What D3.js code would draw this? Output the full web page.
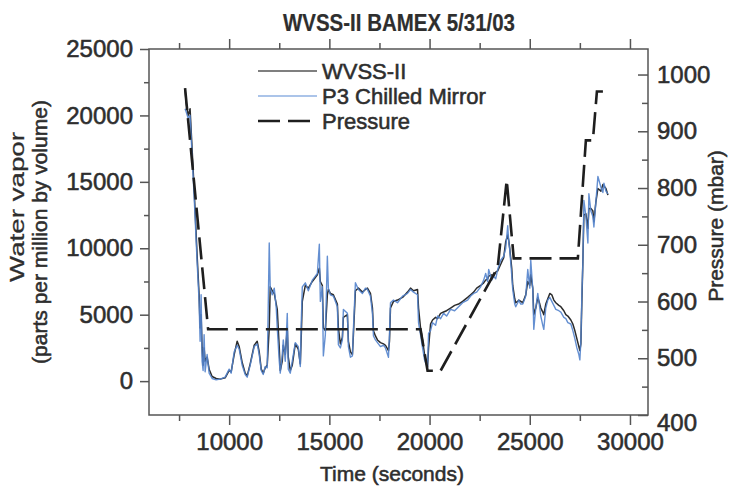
<!DOCTYPE html>
<html>
<head>
<meta charset="utf-8">
<script src="https://cdn.jsdelivr.net/npm/d3@7"></script>
<style>
body { margin: 0; background: #fff; }
svg text { font-family: "Liberation Sans", Arial, sans-serif; fill: #2e2e2e; stroke: #2e2e2e; stroke-width: 0.55px; }
</style>
</head>
<body>
<svg id="chart" width="729" height="486"></svg>
<script>
var chartTitle = "WVSS-II BAMEX 5/31/03";
var seriesNames = ["WVSS-II", "P3 Chilled Mirror", "Pressure"];

// time in seconds, water vapor in ppmv
var times = [
    7800, 7850, 7950, 8050, 8100, 8250, 8400, 8500, 8550, 8600,
    8650, 8700, 8750, 8800, 8900, 9000, 9150, 9350, 9550, 9800,
    10000, 10100, 10250, 10400, 10500, 10650, 10800, 10900, 11050, 11250,
    11400, 11500, 11600, 11700, 11800, 11900, 12000, 12050, 12150, 12250,
    12350, 12400, 12500, 12550, 12650, 12700, 12800, 12900, 12950, 13050,
    13150, 13300, 13450, 13550, 13600, 13650, 13800, 13950, 14150, 14300,
    14400, 14500, 14550, 14650, 14700, 14800, 14900, 14950, 15050, 15200,
    15400, 15450, 15550, 15650, 15700, 15900, 15950, 16050, 16150, 16200,
    16300, 16450, 16650, 16800, 16900, 17050, 17150, 17200, 17300, 17400,
    17550, 17700, 17800, 17950, 18000, 18050, 18200, 18400, 18650, 18900,
    19050, 19200, 19400, 19450, 19550, 19650, 19750, 19850, 19900, 19950,
    20050, 20150, 20300, 20400, 20550, 20700, 20850, 21050, 21250, 21450,
    21650, 21900, 22050, 22200, 22350, 22550, 22700, 22800, 22900, 22950,
    23100, 23200, 23300, 23400, 23550, 23700, 23800, 23900, 23950, 24000,
    24100, 24150, 24250, 24300, 24400, 24450, 24550, 24650, 24750, 24800,
    24900, 25000, 25050, 25150, 25200, 25300, 25400, 25500, 25550, 25650,
    25700, 25800, 25900, 26000, 26100, 26200, 26300, 26450, 26550, 26700,
    26800, 26900, 27050, 27150, 27250, 27350, 27450, 27500, 27550, 27600,
    27650, 27700, 27800, 27900, 27950, 28050, 28150, 28200, 28300, 28400,
    28550, 28650, 28700, 28800, 28900
];

var wvssValues = [
    22000, 21000, 20000, 20500, 19000, 14500, 9500, 6500, 4000, 5000,
    2500, 1200, 2500, 1500, 1800, 900, 350, 200, 150, 250,
    800, 700, 2000, 3000, 2600, 1400, 600, 400, 1300, 2700,
    3000, 2200, 900, 600, 1000, 1200, 4000, 7100, 6800, 6600,
    5800, 5400, 2500, 800, 1500, 2700, 2000, 4000, 1800, 800,
    1200, 2800, 2400, 1300, 3500, 6000, 7200, 7000, 7500, 7800,
    8000, 8500, 7500, 7200, 4000, 3800, 6500, 6900, 6600, 6500,
    5800, 4000, 2800, 3300, 4800, 5000, 3000, 2200, 2000, 3500,
    6800, 7000, 6700, 6900, 7000, 6600, 5500, 3800, 3400, 3100,
    2900, 2800, 2700, 2300, 3000, 5500, 6000, 6100, 6300, 6700,
    7000, 6800, 6900, 5500, 4000, 3100, 2000, 1300, 1100, 2500,
    4300, 4600, 4800, 4700, 5100, 5200, 5300, 5500, 5700, 5800,
    6000, 6300, 6500, 6700, 7000, 7200, 7400, 7600, 7700, 7900,
    8000, 7900, 8200, 8300, 8800, 9300, 10500, 11000, 10600, 10000,
    8500, 7200, 6200, 5900, 6000, 6100, 6000, 5900, 6300, 6500,
    7500, 7200, 8000, 7000, 5000, 5500, 6300, 5800, 5500, 5200,
    5000, 5800, 6200, 6600, 6500, 6100, 5900, 5700, 5600, 5300,
    5000, 4900, 4600, 4300, 3800, 3200, 2600, 2300, 2800, 6000,
    9000, 12500, 12600, 11500, 13000, 13000, 12800, 12000, 13500, 14500,
    14300, 14800, 14700, 14500, 14000
];

var p3Values = [
    20500, 20300, 19800, 20000, 18500, 14000, 9000, 6000, 3000, 6500,
    1500, 800, 3500, 700, 2000, 600, 200, 100, 150, 300,
    900, 600, 2200, 2700, 2400, 1200, 500, 300, 1200, 2600,
    2800, 2000, 800, 500, 1100, 1000, 10400, 7000, 6500, 7000,
    5500, 4000, 1500, 600, 2000, 3100, 1500, 5100, 900, 600,
    1500, 2900, 2600, 1100, 4500, 7100, 7400, 6800, 7600, 7900,
    8100, 10300, 6000, 7100, 1900, 3500, 9400, 7000, 6500, 6400,
    5600, 2750, 2500, 3100, 5400, 5100, 2600, 1800, 1900, 3900,
    7400, 6900, 6600, 7000, 6900, 6400, 5100, 3400, 3100, 2900,
    2600, 2700, 2500, 1800, 3500, 5900, 6100, 5900, 6400, 6600,
    6900, 6700, 6500, 4400, 3500, 2500, 1600, 1200, 1000, 3600,
    3800, 4400, 4200, 4900, 4700, 5100, 4900, 5400, 5300, 5600,
    5900, 6100, 6400, 6600, 6700, 7100, 7600, 8100, 7500, 8400,
    7600, 7900, 7700, 8400, 9100, 9400, 10000, 11700, 10500, 9900,
    8000, 6900, 5800, 5600, 5900, 6100, 5800, 5800, 6200, 6400,
    8400, 7000, 9100, 6900, 3900, 5500, 6600, 5500, 4900, 4200,
    3900, 5500, 6100, 6300, 6000, 5700, 5400, 5300, 5200, 4800,
    4700, 4400, 4300, 3800, 3200, 2500, 2000, 1600, 3000, 6500,
    8900, 13600, 12400, 10400, 14100, 12800, 12400, 11600, 13500, 15400,
    14600, 14200, 14900, 14300, 14100
];

// pressure profile (mbar), right axis
var pressureTimes = [7800, 8950, 19550, 19900, 20550, 23400, 23850, 24200, 27400, 27800, 28150, 28350, 28650];
var pressureValues = [976, 551, 551, 478, 478, 660, 814, 676, 676, 884, 884, 970, 970];

var timeTicks = [10000, 15000, 20000, 25000, 30000];
var timeMinorTicks = [7500, 12500, 17500, 22500, 27500];
var vaporTicks = [0, 5000, 10000, 15000, 20000, 25000];
var vaporMinorTicks = [2500, 7500, 12500, 17500, 22500];
var pressureTicks = [400, 500, 600, 700, 800, 900, 1000];
var pressureMinorTicks = [450, 550, 650, 750, 850, 950];

var WaterVaporChart = function (svgId) {
    this.svgId = svgId;
    this.left = 149;
    this.right = 648;
    this.top = 49;
    this.bottom = 415;
};

WaterVaporChart.prototype.render = function () {
    var self = this;
    var svg = d3.select(self.svgId);
    var fmt = d3.format("d");

    var x = d3.scaleLinear().domain([6000, 30900]).range([self.left, self.right]);
    var yVapor = d3.scaleLinear().domain([-2550, 25000]).range([self.bottom, self.top]);
    var yPressure = d3.scaleLinear().domain([400, 1045]).range([self.bottom, self.top]);

    // axes
    WaterVaporChart.drawAxis(svg, d3.axisBottom(x).tickValues(timeTicks).tickSize(10).tickPadding(8).tickFormat(fmt),
        "translate(0," + self.bottom + ")", true);
    WaterVaporChart.drawAxis(svg, d3.axisBottom(x).tickValues(timeMinorTicks).tickSize(6).tickFormat(""),
        "translate(0," + self.bottom + ")", false);
    WaterVaporChart.drawAxis(svg, d3.axisTop(x).tickValues(timeTicks).tickSize(10).tickFormat(""),
        "translate(0," + self.top + ")", false);
    WaterVaporChart.drawAxis(svg, d3.axisTop(x).tickValues(timeMinorTicks).tickSize(6).tickFormat(""),
        "translate(0," + self.top + ")", false);

    WaterVaporChart.drawAxis(svg, d3.axisLeft(yVapor).tickValues(vaporTicks).tickSize(9).tickPadding(7).tickFormat(fmt),
        "translate(" + self.left + ",0)", true);
    WaterVaporChart.drawAxis(svg, d3.axisLeft(yVapor).tickValues(vaporMinorTicks).tickSize(5).tickFormat(""),
        "translate(" + self.left + ",0)", false);

    var right = WaterVaporChart.drawAxis(svg, d3.axisRight(yPressure).tickValues(pressureTicks).tickSize(-10).tickPadding(9).tickFormat(fmt),
        "translate(" + self.right + ",0)", true);
    WaterVaporChart.drawAxis(svg, d3.axisRight(yPressure).tickValues(pressureMinorTicks).tickSize(-6).tickFormat(""),
        "translate(" + self.right + ",0)", false);
    right.selectAll(".tick text")
        .filter(function(d) { return d === 400; })
        .attr("y", 8);

    svg.append("rect")
        .attr("x", self.left)
        .attr("y", self.top)
        .attr("width", self.right - self.left)
        .attr("height", self.bottom - self.top)
        .attr("fill", "none")
        .attr("stroke", "#555")
        .attr("stroke-width", 1.5);

    // series
    var vaporLine = d3.line()
        .x(function(d) { return x(d[0]); })
        .y(function(d) { return yVapor(d[1]); });
    var pressureLine = d3.line()
        .x(function(d) { return x(d[0]); })
        .y(function(d) { return yPressure(d[1]); });

    var wvss = times.map(function(t, i) { return [t, wvssValues[i]]; });
    var p3 = times.map(function(t, i) { return [t, p3Values[i]]; });
    var pressure = pressureTimes.map(function(t, i) { return [t, pressureValues[i]]; });

    svg.append("path")
        .datum(wvss)
        .attr("d", vaporLine)
        .attr("fill", "none")
        .attr("stroke", "#2b2b2b")
        .attr("stroke-width", 1.5)
        .attr("stroke-linejoin", "round");

    svg.append("path")
        .datum(p3)
        .attr("d", vaporLine)
        .attr("fill", "none")
        .attr("stroke", "#5383cc")
        .attr("stroke-width", 1.4)
        .attr("stroke-opacity", 0.9)
        .attr("stroke-linejoin", "round");

    svg.append("path")
        .datum(pressure)
        .attr("d", pressureLine)
        .attr("fill", "none")
        .attr("stroke", "#1e1e1e")
        .attr("stroke-width", 2.6)
        .attr("stroke-dasharray", "22,8");

    // legend
    var legendStyles = [
        { stroke: "#555", width: 1.6, dash: null },
        { stroke: "#8fb1e2", width: 1.6, dash: null },
        { stroke: "#1e1e1e", width: 2.6, dash: "22,8" }
    ];
    var legend = svg.append("g").attr("transform", "translate(258,71)");
    var rows = legend.selectAll(".legend-row")
        .data(seriesNames)
        .enter().append("g")
        .attr("class", "legend-row")
        .attr("transform", function(d, i) { return "translate(0," + (i * 25) + ")"; });

    rows.append("line")
        .attr("x1", 0)
        .attr("x2", 59)
        .attr("stroke", function(d, i) { return legendStyles[i].stroke; })
        .attr("stroke-width", function(d, i) { return legendStyles[i].width; })
        .attr("stroke-dasharray", function(d, i) { return legendStyles[i].dash; });

    rows.append("text")
        .attr("x", 64)
        .attr("y", 8)
        .style("font-size", "22px")
        .text(function(d) { return d; });

    // titles
    svg.append("text")
        .attr("x", 399)
        .attr("y", 31)
        .attr("text-anchor", "middle")
        .attr("textLength", 232)
        .attr("lengthAdjust", "spacingAndGlyphs")
        .style("font-size", "23px")
        .style("font-weight", "bold")
        .style("stroke-width", "0.2px")
        .text(chartTitle);

    svg.append("text")
        .attr("x", 392)
        .attr("y", 481)
        .attr("text-anchor", "middle")
        .style("font-size", "21px")
        .text("Time (seconds)");

    svg.append("text")
        .attr("transform", "translate(24,207) rotate(-90)")
        .attr("text-anchor", "middle")
        .attr("textLength", 150)
        .attr("lengthAdjust", "spacingAndGlyphs")
        .style("font-size", "21px")
        .style("stroke-width", "0.25px")
        .text("Water vapor");

    svg.append("text")
        .attr("transform", "translate(47,232) rotate(-90)")
        .attr("text-anchor", "middle")
        .style("font-size", "21px")
        .text("(parts per million by volume)");

    svg.append("text")
        .attr("transform", "translate(723,226) rotate(-90)")
        .attr("text-anchor", "middle")
        .style("font-size", "21px")
        .text("Pressure (mbar)");
};

WaterVaporChart.drawAxis = function(svg, axis, transform, labels) {
    var g = svg.append("g")
        .attr("transform", transform)
        .call(axis);
    g.select(".domain").remove();
    g.selectAll(".tick line")
        .attr("stroke", "#555")
        .attr("stroke-width", 1.5);
    if (labels) {
        g.selectAll(".tick text")
            .style("font-size", "24px")
            .style("font-family", "\"Liberation Sans\", Arial, sans-serif")
            .attr("fill", "#2e2e2e");
    }
    return g;
};

var chart = new WaterVaporChart("#chart");
chart.render();
</script>
</body>
</html>
